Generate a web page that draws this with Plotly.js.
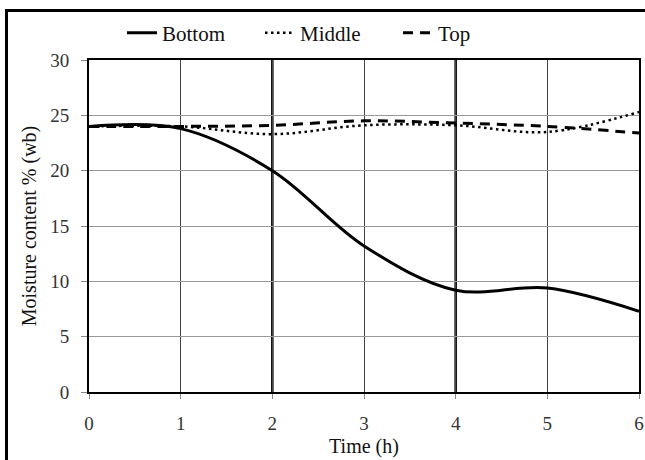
<!DOCTYPE html>
<html>
<head>
<meta charset="utf-8">
<script src="https://cdn.plot.ly/plotly-3.0.1.min.js"></script>
<style>
  html, body { margin: 0; padding: 0; background: #fff; }
  #wrap { position: relative; width: 645px; height: 460px; overflow: hidden; }
  #chart { width: 645px; height: 460px; }
  #frame {
    position: absolute; left: 5px; top: 9px; right: -10px; bottom: -10px;
    border-left: 3px solid #000; border-top: 3px solid #000;
    pointer-events: none;
  }
  #chart text { font-family: "Liberation Serif", "Times New Roman", serif !important; }
</style>
</head>
<body>
<div id="wrap">
  <div id="chart"></div>
  <div id="frame"></div>
</div>
<script>
// Drying time (h) and moisture content % (wet basis) at three bed heights
const timeH = [0, 1, 2, 3, 4, 5, 6];
const bottomLayer = [24.0, 23.8, 20.0, 13.2, 9.2, 9.4, 7.3];
const middleLayer = [24.0, 24.0, 23.3, 24.1, 24.1, 23.5, 25.3];
const topLayer = [24.0, 24.0, 24.1, 24.5, 24.3, 24.0, 23.4];

const xTicks = [0, 1, 2, 3, 4, 5, 6];
const yTicks = [0, 5, 10, 15, 20, 25, 30];
// heavier vertical rules
const majorRules = [2, 4];

const serif = '"Liberation Serif", "Times New Roman", serif';

const traces = [
  { x: timeH, y: topLayer, name: 'Top', mode: 'lines', legendrank: 3,
    line: { color: '#000', width: 3, dash: '10px,7px', shape: 'spline', smoothing: 1 } },
  { x: timeH, y: middleLayer, name: 'Middle', mode: 'lines', legendrank: 2,
    line: { color: '#000', width: 2.5, dash: '2.5px,3.5px', shape: 'spline', smoothing: 1 } },
  { x: timeH, y: bottomLayer, name: 'Bottom', mode: 'lines', legendrank: 1,
    line: { color: '#000', width: 3, shape: 'spline', smoothing: 1 } }
];

const shapes = majorRules.map(v => ({
  type: 'line', xref: 'x', yref: 'paper', x0: v, x1: v, y0: 0, y1: 1,
  line: { color: '#000', width: 2.5 }, layer: 'below'
}));

const layout = {
  width: 645, height: 460,
  margin: { l: 89, r: 6, t: 60, b: 68 },
  paper_bgcolor: '#fff', plot_bgcolor: '#fff',
  font: { family: serif, color: '#222', size: 19 },
  showlegend: true,
  legend: {
    orientation: 'h', x: 0.06, xanchor: 'left', y: 1.081, yanchor: 'middle',
    font: { family: serif, size: 21, color: '#111' },
    itemwidth: 30, tracegroupgap: 0, entrywidth: 93, entrywidthmode: 'pixels'
  },
  xaxis: {
    range: [0, 6], tickvals: xTicks, ticktext: xTicks.map(String),
    showgrid: true, gridcolor: '#444', gridwidth: 1, zeroline: false,
    showline: true, linecolor: '#000', linewidth: 2, mirror: true,
    ticks: 'outside', ticklen: 5, tickcolor: '#888', tickwidth: 1,
    ticklabelstandoff: 8,
    tickfont: { family: serif, size: 19, color: '#333' },
    title: { text: 'Time (h)', font: { family: serif, size: 20, color: '#111' }, standoff: 6 }
  },
  yaxis: {
    range: [0, 30], tickvals: yTicks, ticktext: yTicks.map(String),
    showgrid: true, gridcolor: '#999', gridwidth: 1, zeroline: false,
    showline: true, linecolor: '#000', linewidth: 2, mirror: true,
    ticks: 'outside', ticklen: 6, tickcolor: '#888', tickwidth: 1,
    ticklabelstandoff: 8,
    tickfont: { family: serif, size: 19, color: '#333' },
    title: { text: 'Moisture content % (wb)', font: { family: serif, size: 20, color: '#111' }, standoff: 8 }
  },
  shapes: shapes
};

Plotly.newPlot('chart', traces, layout, { displayModeBar: false, staticPlot: true });
</script>
</body>
</html>
